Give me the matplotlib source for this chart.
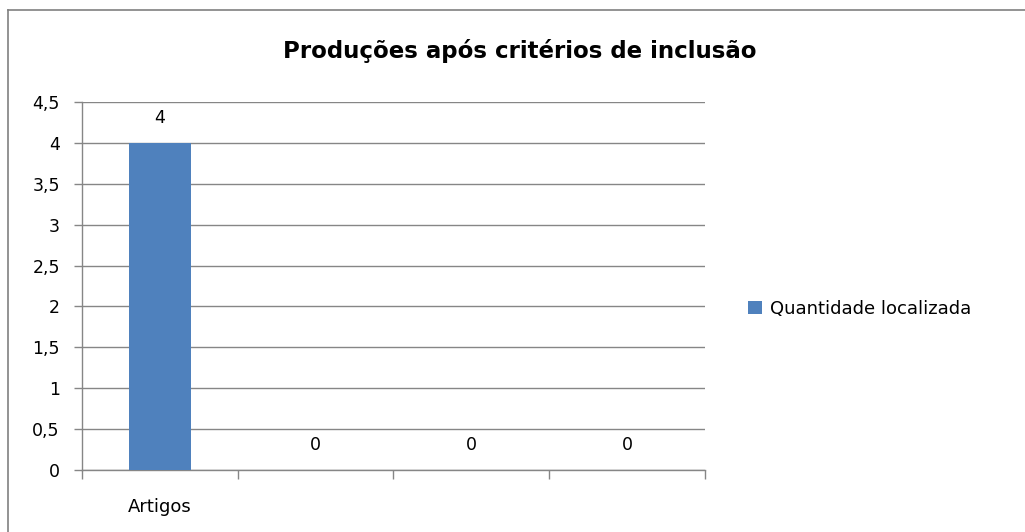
import numpy as np
import matplotlib.pyplot as plt
from matplotlib.lines import Line2D
from matplotlib.ticker import FuncFormatter

categorias = ['Artigos', '', '', '']
valores = [4, 0, 0, 0]
serie = 'Quantidade localizada'
titulo = 'Produções após critérios de inclusão'

cor_barra = '#4f81bd'
cor_grade = '#868686'

plt.rcParams['font.family'] = ['DejaVu Sans']

fig = plt.figure(figsize=(10.25, 5.32), dpi=100)
ax = fig.add_axes([0.080, 0.1165, 0.6078, 0.6918])

x = np.arange(len(categorias))
barras = ax.bar(x, valores, width=0.4, color=cor_barra, label=serie, zorder=3)

# rótulos de dados
for xi, v in zip(x, valores):
    ax.annotate(str(v), (xi, v), xytext=(0, 18), textcoords='offset points',
                ha='center', va='center', fontsize=12.5, color='#000000')

ax.set_xlim(-0.5, len(categorias) - 0.5)
ax.set_ylim(0, 4.5)
ax.set_yticks(np.arange(0, 4.51, 0.5))
ax.yaxis.set_major_formatter(FuncFormatter(lambda v, p: ('%g' % v).replace('.', ',')))
ax.set_xticks(x)
ax.set_xticklabels(categorias, fontsize=13)
ax.set_xticks(np.arange(-0.5, len(categorias)), minor=True)
ax.tick_params(axis='x', which='major', length=0, pad=20)
ax.tick_params(axis='x', which='minor', length=6.5, color=cor_grade, width=1)
ax.tick_params(axis='y', length=6, color=cor_grade, width=1, labelsize=12.5, pad=10)

ax.yaxis.grid(True, color=cor_grade, linewidth=1, zorder=0)
for s in ['top', 'right']:
    ax.spines[s].set_visible(False)
for s in ['left', 'bottom']:
    ax.spines[s].set_color(cor_grade)
    ax.spines[s].set_linewidth(1)

fig.text(0.507, 0.905, titulo, ha='center', va='center', fontsize=16.5, fontweight='bold')

fig.legend(handles=[barras], labels=[serie], loc='center left',
           bbox_to_anchor=(0.714, 0.42), frameon=False, fontsize=13,
           handlelength=0.77, handleheight=0.77, handletextpad=0.45)

# moldura do gráfico
fig.add_artist(Line2D([8 / 1025, 1.0], [1 - 10 / 532, 1 - 10 / 532], color='#808080', linewidth=1.2))
fig.add_artist(Line2D([8 / 1025, 8 / 1025], [0.0, 1 - 10 / 532], color='#808080', linewidth=1.2))

fig.savefig('out.png', dpi=100)
